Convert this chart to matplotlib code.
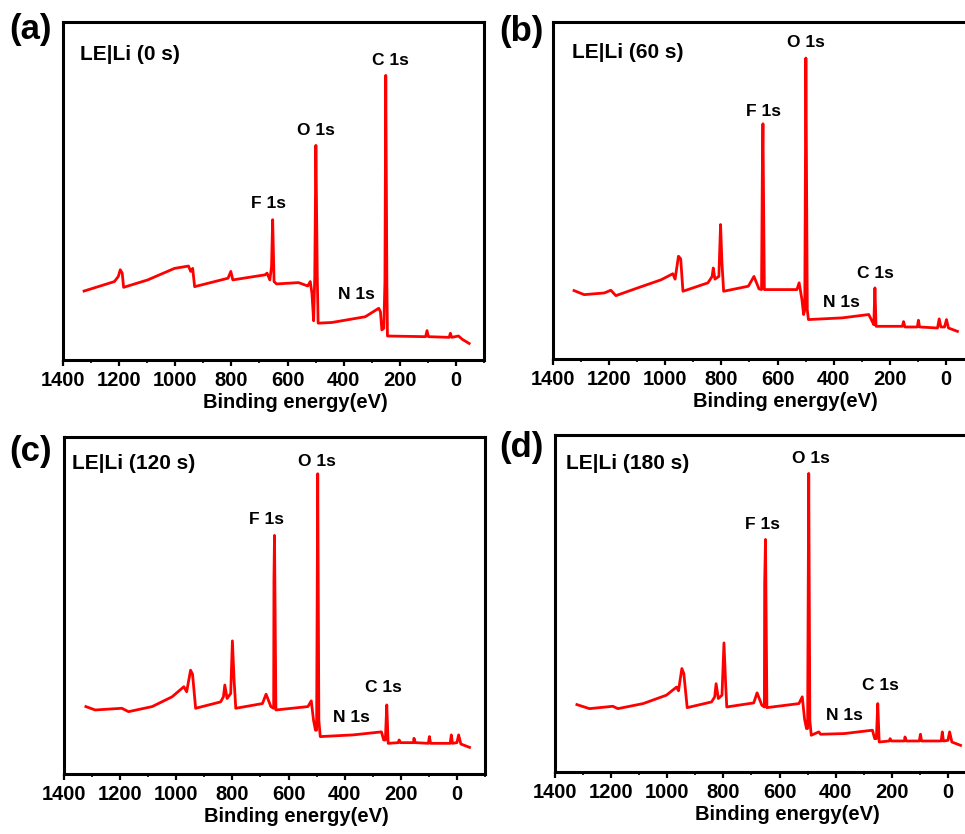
import matplotlib
matplotlib.use("Agg")
import matplotlib.pyplot as plt
from matplotlib.ticker import MultipleLocator

plt.rcParams.update({
    "font.family": ["Liberation Sans", "DejaVu Sans"],
    "font.weight": "bold",
    "axes.linewidth": 2.2,
    "xtick.direction": "out",
    "xtick.major.size": 4,
    "xtick.major.width": 1.6,
    "xtick.minor.size": 2.5,
    "xtick.minor.width": 1.2,
})

LINE_COLOR = "#ff0000"

# Survey spectra, binding energy (eV) vs intensity (a.u., 0-100 scale)
energy_0s = [1325, 1217, 1203, 1196, 1189, 1184, 1098, 1003, 967, 953, 945, 938, 931,
             812, 802, 795, 680, 673, 663, 657, 653, 648, 639, 561, 528, 519, 513, 507,
             503, 499, 494, 491, 442, 323, 275, 269, 264, 257, 253, 250, 246, 244,
             108, 103, 98, 24, 20, 15, -9, -23, -47]
intensity_0s = [20.4, 23.2, 24.7, 26.7, 25.7, 21.5, 23.7, 27.1, 27.6, 27.8, 26.2, 27.1, 21.7,
                24.2, 26.2, 23.7, 25.2, 25.7, 23.7, 27.6, 41.5, 23.2, 22.5, 22.9, 21.9, 23.2, 19.7, 11.6,
                24.7, 63.5, 24.7, 10.9, 11.1, 12.8, 15.3, 14.3, 8.9, 9.4, 23.2, 84.2, 22.7, 7.1,
                6.9, 8.7, 6.9, 6.7, 7.9, 6.7, 7.1, 6.1, 4.9]

energy_60s = [1325, 1289, 1217, 1194, 1176, 1098, 1015, 973, 965, 953, 945, 937,
              848, 833, 829, 823, 809, 803, 798, 792, 704, 684, 666, 657, 654, 652, 647,
              531, 523, 513, 507, 503, 499, 494, 490, 370, 275, 263, 257, 253, 249,
              155, 151, 146, 102, 98, 94, 30, 24, 18, 5, -2, -9, -41]
intensity_60s = [20.3, 19.1, 19.6, 20.4, 18.8, 21.1, 23.5, 25.3, 23.7, 30.5, 29.7, 20.1,
                 22.6, 24.5, 27.0, 23.7, 24.5, 39.9, 28.5, 20.1, 21.6, 24.5, 20.8, 20.6, 57.2, 69.8, 20.6,
                 20.6, 22.6, 17.6, 13.2, 14.6, 89.3, 14.6, 11.7, 12.2, 13.2, 11.2, 10.2, 21.1, 9.7,
                 9.7, 11.1, 9.5, 9.5, 11.5, 9.5, 9.2, 11.9, 9.5, 9.5, 11.7, 9.2, 8.2]

energy_120s = [1322, 1289, 1194, 1170, 1086, 1015, 973, 963, 949, 942, 931,
               842, 832, 827, 819, 806, 800, 794, 788, 693, 680, 663, 653, 652, 650, 645,
               531, 519, 511, 504, 500, 496, 492, 487, 370, 269, 261, 255, 250, 245,
               209, 206, 201, 155, 153, 148, 102, 98, 94, 24, 20, 16, 0, -6, -14, -45]
intensity_120s = [20.0, 19.0, 19.5, 18.5, 20.0, 22.9, 25.9, 24.4, 30.8, 29.6, 19.5,
                  21.4, 22.9, 26.4, 22.4, 23.9, 39.5, 27.9, 19.5, 20.9, 23.7, 20.0, 19.5, 57.5, 70.8, 19.0,
                  20.0, 21.7, 16.0, 13.0, 13.0, 89.1, 16.0, 11.1, 11.6, 12.5, 10.1, 10.1, 20.5, 9.1,
                  9.3, 10.1, 9.3, 9.3, 10.6, 9.3, 9.1, 11.1, 9.1, 9.1, 11.6, 9.1, 9.3, 11.6, 8.9, 7.9]

energy_180s = [1322, 1277, 1194, 1176, 1086, 1003, 967, 960, 948, 941, 929,
               842, 831, 826, 818, 805, 798, 792, 788, 692, 680, 663, 654, 653, 650, 645,
               531, 519, 511, 504, 500, 496, 492, 487, 460, 454, 370, 269, 261, 255, 250, 245,
               209, 206, 201, 155, 153, 148, 102, 98, 94, 24, 20, 16, 0, -6, -14, -45]
intensity_180s = [20.0, 18.8, 19.5, 18.8, 20.3, 22.8, 25.2, 24.1, 30.7, 29.2, 19.1,
                  20.8, 22.3, 26.2, 21.8, 22.8, 38.3, 26.2, 19.3, 20.5, 23.5, 19.8, 19.3, 55.9, 69.0, 19.1,
                  20.3, 22.3, 15.8, 12.9, 12.9, 88.6, 15.3, 10.9, 11.9, 11.2, 11.4, 12.4, 9.9, 9.9, 20.3, 8.9,
                  9.2, 9.9, 9.2, 9.2, 10.4, 9.2, 9.2, 11.2, 9.2, 9.2, 11.9, 9.2, 9.4, 11.9, 8.9, 7.9]

# peak label positions (eV, intensity)
peak_names = ["C 1s", "O 1s", "F 1s", "N 1s"]
peaks_0s = [(233, 88.5), (498, 67.9), (668, 46.4), (356, 19.5)]
peaks_60s = [(251, 25.5), (499, 93.8), (649, 73.5), (371, 16.9)]
peaks_120s = [(263, 25.6), (498, 92.8), (677, 75.6), (376, 16.7)]
peaks_180s = [(241, 25.7), (489, 93.1), (659, 73.5), (368, 16.8)]

fig = plt.figure(figsize=(9.65, 8.34), dpi=100)
W, H = 965.0, 834.0


def panel(box, energy, intensity, peaks, sample, sample_xy, tag, tag_xy):
    left, top, right, bottom = box
    ax = fig.add_axes([left / W, 1 - bottom / H, (right - left) / W, (bottom - top) / H])
    ax.plot(energy, intensity, color=LINE_COLOR, linewidth=2.0)
    ax.set_xlim(1400, -100)
    ax.set_ylim(0, 100)
    ax.xaxis.set_major_locator(MultipleLocator(200))
    ax.xaxis.set_minor_locator(MultipleLocator(100))
    ax.set_xticks([1400, 1200, 1000, 800, 600, 400, 200, 0])
    ax.tick_params(axis="x", labelsize=14.5, pad=4)
    ax.set_yticks([])
    ax.set_xlabel("Binding energy(eV)", fontsize=14.5, fontweight="bold")
    ax.xaxis.set_label_coords(0.551, -0.097)
    for name, (x, y) in zip(peak_names, peaks):
        ax.text(x, y, name, fontsize=12.5, fontweight="bold", ha="center", va="center")
    ax.text(sample_xy[0], sample_xy[1], sample, transform=ax.transAxes,
            fontsize=15, fontweight="bold", ha="left", va="center")
    fig.text(tag_xy[0] / W, 1 - tag_xy[1] / H, tag, fontsize=25, fontweight="bold",
             ha="left", va="center")
    return ax


panel((63, 22, 484, 360), energy_0s, intensity_0s, peaks_0s,
      "LE|Li (0 s)", (0.04, 0.903), "(a)", (9, 30))
panel((553, 22, 974, 359), energy_60s, intensity_60s, peaks_60s,
      "LE|Li (60 s)", (0.044, 0.91), "(b)", (499, 32))
panel((64, 437, 485, 774), energy_120s, intensity_120s, peaks_120s,
      "LE|Li (120 s)", (0.02, 0.921), "(c)", (9, 452))
panel((555, 435, 976, 772), energy_180s, intensity_180s, peaks_180s,
      "LE|Li (180 s)", (0.026, 0.916), "(d)", (499, 448))

fig.savefig("out.png", dpi=100, facecolor="white")
